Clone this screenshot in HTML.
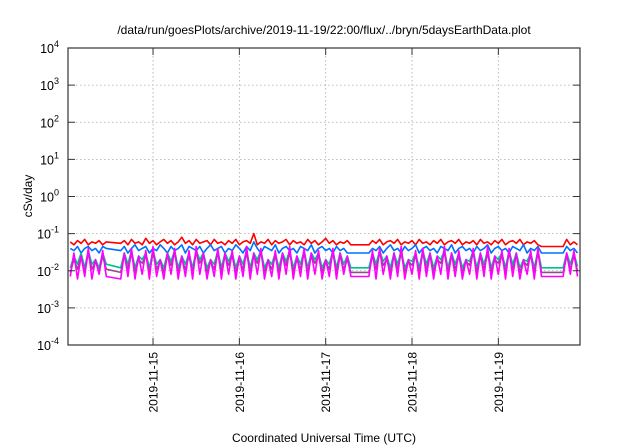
<!DOCTYPE html>
<html><head><meta charset="utf-8"><style>
body{margin:0;background:#fff;}
svg{display:block;font-family:"Liberation Sans",sans-serif;}
</style></head><body>
<svg id="chart" width="640" height="448" viewBox="0 0 640 448">
<rect width="640" height="448" fill="#fff"/>
<text x="324" y="34" font-size="12" text-anchor="middle">/data/run/goesPlots/archive/2019-11-19/22:00/flux/../bryn/5daysEarthData.plot</text>
<g id="grid"></g>
<g id="series"></g>
<rect x="68" y="48" width="512" height="297" fill="none" stroke="#333" stroke-width="1.2"/>
<g id="axes"></g>
<text transform="translate(32,196) rotate(-90)" font-size="12" text-anchor="middle">cSv/day</text>
<text x="324" y="442" font-size="12" text-anchor="middle">Coordinated Universal Time (UTC)</text>
</svg>
<script>
const xTickLabels=["2019-11-15","2019-11-16","2019-11-17","2019-11-18","2019-11-19"];
const xTickHours=[24,48,72,96,120];
const yTickExps=[-4,-3,-2,-1,0,1,2,3,4];
const segStartHours=[1,15,84,138];
const redVals=[[0.06,0.05,0.065,0.055,0.07,0.05,0.06,0.055,0.065,0.05,0.06],
[0.055,0.065,0.05,0.07,0.055,0.06,0.05,0.075,0.055,0.065,
0.05,0.06,0.07,0.055,0.065,0.05,0.06,0.08,0.055,0.065,
0.05,0.07,0.055,0.06,0.065,0.05,0.07,0.055,0.06,0.05,
0.065,0.055,0.07,0.05,0.06,0.065,0.055,0.1,0.05,0.06,
0.055,0.07,0.05,0.065,0.055,0.06,0.07,0.05,0.065,0.055,
0.06,0.05,0.07,0.055,0.065,0.05,0.06,0.075,0.055,0.065,
0.05,0.06,0.055,0.065,0.05],
[0.05,0.065,0.055,0.07,0.05,0.06,0.065,0.055,0.07,0.05,
0.06,0.055,0.065,0.05,0.07,0.055,0.06,0.05,0.065,0.055,
0.07,0.05,0.06,0.065,0.055,0.07,0.05,0.06,0.055,0.065,
0.05,0.07,0.055,0.06,0.05,0.065,0.055,0.07,0.05,0.06,
0.065,0.055,0.07,0.05,0.06,0.055,0.065,0.05,0.045],
[0.045,0.07,0.05,0.06,0.05]];
const blueVals=[[0.04,0.035,0.045,0.03,0.04,0.045,0.035,0.04,0.03,0.045,0.04],
[0.035,0.045,0.03,0.04,0.05,0.035,0.04,0.045,0.03,0.04,
0.035,0.05,0.04,0.03,0.045,0.035,0.04,0.05,0.03,0.045,
0.04,0.035,0.045,0.03,0.04,0.05,0.035,0.04,0.045,0.03,
0.04,0.035,0.05,0.04,0.03,0.045,0.035,0.06,0.04,0.03,
0.045,0.04,0.035,0.05,0.03,0.04,0.045,0.035,0.04,0.03,
0.045,0.04,0.035,0.05,0.03,0.04,0.045,0.035,0.04,0.03,
0.045,0.035,0.04,0.03,0.03],
[0.03,0.04,0.035,0.045,0.03,0.04,0.05,0.035,0.04,0.03,
0.045,0.035,0.04,0.05,0.03,0.04,0.045,0.035,0.04,0.03,
0.045,0.04,0.035,0.05,0.03,0.04,0.045,0.035,0.04,0.03,
0.045,0.035,0.04,0.05,0.03,0.04,0.045,0.035,0.04,0.03,
0.045,0.04,0.035,0.05,0.03,0.04,0.035,0.045,0.03],
[0.03,0.045,0.035,0.04,0.03]];
const tealVals=[[0.012,0.025,0.015,0.03,0.012,0.035,0.015,0.02,0.012,0.03,0.015],
[0.012,0.03,0.015,0.035,0.012,0.025,0.02,0.03,0.012,0.035,
0.015,0.02,0.012,0.03,0.018,0.035,0.012,0.025,0.015,0.03,
0.012,0.035,0.02,0.03,0.012,0.02,0.015,0.035,0.012,0.03,
0.018,0.03,0.012,0.025,0.015,0.035,0.012,0.03,0.02,0.035,
0.012,0.02,0.015,0.03,0.012,0.03,0.018,0.035,0.012,0.025,
0.015,0.035,0.012,0.03,0.02,0.03,0.012,0.02,0.015,0.035,
0.012,0.03,0.015,0.025,0.012],
[0.012,0.03,0.015,0.035,0.018,0.025,0.012,0.03,0.015,0.035,
0.012,0.02,0.018,0.03,0.012,0.035,0.015,0.03,0.012,0.025,
0.02,0.035,0.012,0.03,0.015,0.03,0.012,0.02,0.018,0.035,
0.012,0.03,0.015,0.035,0.012,0.025,0.02,0.03,0.012,0.035,
0.015,0.03,0.012,0.02,0.018,0.03,0.012,0.035,0.012],
[0.012,0.03,0.015,0.03,0.013]];
const purpleVals=[[0.009,0.02,0.011,0.025,0.009,0.03,0.011,0.018,0.009,0.025,0.011],
[0.009,0.025,0.011,0.03,0.009,0.02,0.016,0.025,0.009,0.03,
0.011,0.018,0.009,0.025,0.014,0.03,0.009,0.02,0.011,0.025,
0.009,0.03,0.016,0.025,0.009,0.018,0.011,0.03,0.009,0.025,
0.014,0.025,0.009,0.02,0.011,0.03,0.009,0.025,0.016,0.03,
0.009,0.018,0.011,0.025,0.009,0.025,0.014,0.03,0.009,0.02,
0.011,0.03,0.009,0.025,0.016,0.025,0.009,0.018,0.011,0.03,
0.009,0.025,0.011,0.02,0.009],
[0.009,0.025,0.011,0.03,0.014,0.02,0.009,0.025,0.011,0.03,
0.009,0.018,0.014,0.025,0.009,0.03,0.011,0.025,0.009,0.02,
0.016,0.03,0.009,0.025,0.011,0.025,0.009,0.018,0.014,0.03,
0.009,0.025,0.011,0.03,0.009,0.02,0.016,0.025,0.009,0.03,
0.011,0.025,0.009,0.018,0.014,0.025,0.009,0.03,0.009],
[0.009,0.025,0.011,0.025,0.01]];
const magentaVals=[[0.007,0.03,0.006,0.025,0.007,0.04,0.006,0.02,0.008,0.035,0.007],
[0.006,0.03,0.007,0.04,0.006,0.025,0.008,0.035,0.006,0.045,
0.007,0.02,0.006,0.03,0.008,0.04,0.006,0.025,0.007,0.035,
0.006,0.045,0.008,0.03,0.006,0.02,0.007,0.04,0.006,0.03,
0.008,0.035,0.006,0.025,0.007,0.045,0.006,0.03,0.008,0.04,
0.006,0.02,0.007,0.035,0.006,0.03,0.008,0.045,0.006,0.025,
0.007,0.04,0.006,0.03,0.008,0.035,0.006,0.02,0.007,0.04,
0.006,0.03,0.008,0.025,0.007],
[0.007,0.035,0.006,0.04,0.008,0.025,0.006,0.03,0.007,0.045,
0.006,0.02,0.008,0.035,0.006,0.04,0.007,0.03,0.006,0.025,
0.008,0.045,0.006,0.03,0.007,0.035,0.006,0.02,0.008,0.04,
0.006,0.03,0.007,0.045,0.006,0.025,0.008,0.035,0.006,0.04,
0.007,0.03,0.006,0.02,0.008,0.035,0.006,0.04,0.007],
[0.007,0.03,0.008,0.035,0.007]];
const seriesColors=["#ff0000","#0070ff","#00c090","#8b4f8b","#ff00ff"];
const seriesNames=["red-series","blue-series","teal-series","purple-series","magenta-series"];
const seriesData=[redVals,blueVals,tealVals,purpleVals,magentaVals];

const X0=68,X1=580,Y0=345,Y1=48,H0=0.36,H1=142.7;
function xs(h){return X0+(h-H0)/(H1-H0)*(X1-X0);}
function ys(v){return Y0-(Math.log10(v)+4)/8*(Y0-Y1);}
const NS="http://www.w3.org/2000/svg";
const grid=document.getElementById('grid'),axes=document.getElementById('axes'),ser=document.getElementById('series');
function mk(t,a,p){const e=document.createElementNS(NS,t);for(const k in a)e.setAttribute(k,a[k]);p.appendChild(e);return e;}
yTickExps.forEach(e=>{
  const y=ys(Math.pow(10,e));
  if(e>-4&&e<4){const g=mk('line',{x1:X0,x2:X1,y1:y,y2:y,stroke:'#aaa','stroke-dasharray':'1.5,2.5','stroke-width':0.8},grid);
  
  }
  const t1=mk('line',{x1:X0,x2:X0+7,y1:y,y2:y,stroke:'#333'},axes);
  
  
  const t2=mk('line',{x1:X1-7,x2:X1,y1:y,y2:y,stroke:'#333'},axes);
  
  
  const tx=mk('text',{x:X0-9,y:y+5,'font-size':12.5,'text-anchor':'end'},axes);
  
  
  tx.innerHTML='10<tspan dy="-6" font-size="9">'+e+'</tspan>';
});
xTickHours.forEach((h,i)=>{
  const x=xs(h);
  const g=mk('line',{x1:x,x2:x,y1:Y1,y2:Y0,stroke:'#aaa','stroke-dasharray':'1.5,2.5','stroke-width':0.8},grid);
  
  
  const t1=mk('line',{x1:x,x2:x,y1:Y0-7,y2:Y0,stroke:'#333'},axes);
  
  
  const t2=mk('line',{x1:x,x2:x,y1:Y1,y2:Y1+7,stroke:'#333'},axes);
  
  
  const tx=mk('text',{transform:'translate('+(x+4.5)+',352) rotate(-90)','font-size':12,'text-anchor':'end'},axes);
  
  
  tx.textContent=xTickLabels[i];
});
seriesData.forEach((segs,si)=>{
  let pts=[];
  segs.forEach((vals,k)=>{vals.forEach((v,j)=>pts.push(xs(segStartHours[k]+j).toFixed(1)+','+ys(v).toFixed(1)));});
  const p=mk('polyline',{points:pts.join(' '),fill:'none',stroke:seriesColors[si],'stroke-width':1.6,'stroke-linejoin':'round'},ser);
  
  
});
</script>
</body></html>
